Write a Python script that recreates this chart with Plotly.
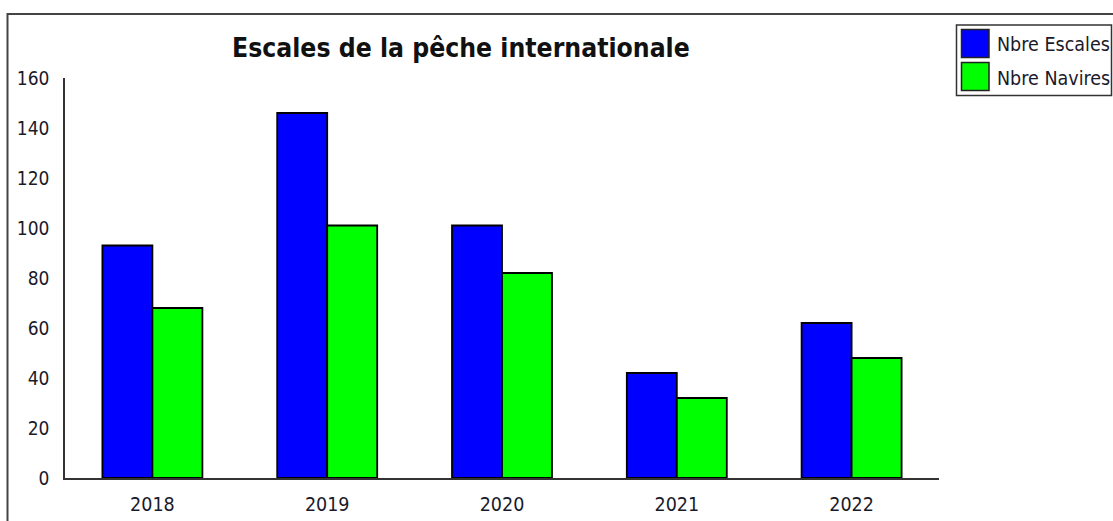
import plotly.graph_objects as go

years = ["2018", "2019", "2020", "2021", "2022"]
escales = [93, 146, 101, 42, 62]
navires = [68, 101, 82, 32, 48]
series_names = ["Nbre Escales", "Nbre Navires"]
series_colors = ["#0000FF", "#00FF00"]
title_text = "Escales de la pêche internationale"

W, H = 1113, 521
L, R, T, B = 65, 939, 78, 478  # plot area in pixels


def px(x):
    return (x - L) / (R - L)


def py(y):
    return (B - y) / (B - T)


FONT = "DejaVu Sans Condensed, DejaVu Sans, sans-serif"
TXT = "#1a1a2a"

fig = go.Figure()
for name, vals, col in zip(series_names, [escales, navires], series_colors):
    fig.add_trace(go.Bar(
        x=years, y=vals, name=name,
        marker=dict(color=col, line=dict(color="black", width=1.8)),
        showlegend=False,
    ))

shapes = []
annotations = []
# outer frame
shapes.append(dict(type="rect", xref="paper", yref="paper",
                   x0=px(7.5), x1=px(1125), y0=py(14), y1=py(540),
                   line=dict(color="#444444", width=2), fillcolor="rgba(0,0,0,0)", layer="below"))
# legend box
shapes.append(dict(type="rect", xref="paper", yref="paper",
                   x0=px(956.5), x1=px(1111.5), y0=py(25), y1=py(95.5),
                   line=dict(color="#333333", width=1.5), fillcolor="white"))
sw_y = [(29.5, 57.5), (62.5, 90.5)]
txt_y = [45, 79]
for (y0, y1), ty, name, col in zip(sw_y, txt_y, series_names, series_colors):
    shapes.append(dict(type="rect", xref="paper", yref="paper",
                       x0=px(961.5), x1=px(989), y0=py(y1), y1=py(y0),
                       line=dict(color="#222222", width=1.5), fillcolor=col))
    annotations.append(dict(xref="paper", yref="paper", x=px(995), y=py(ty),
                            text=name, showarrow=False, xanchor="left", yanchor="middle",
                            font=dict(family=FONT, size=19.5, color=TXT)))
annotations.append(dict(xref="paper", yref="paper", x=px(461), y=py(48),
                        text="<b>" + title_text + "</b>", showarrow=False,
                        xanchor="center", yanchor="middle",
                        font=dict(family=FONT, size=26.3, color="#111111")))

fig.update_layout(
    template="none",
    width=W, height=H, autosize=False,
    margin=dict(l=L, r=W - R, t=T, b=H - B, pad=0, autoexpand=False),
    paper_bgcolor="white", plot_bgcolor="white",
    barmode="group", bargap=0.428, bargroupgap=0,
    shapes=shapes, annotations=annotations,
    showlegend=False,
)
fig.update_xaxes(type="category", range=[-0.5, 4.5], showline=True, linecolor="#333333", linewidth=1.5,
                 showgrid=False, zeroline=False, ticks="", ticklabelstandoff=8, automargin=False,
                 tickfont=dict(family=FONT, size=19.5, color=TXT))
fig.update_yaxes(range=[0, 160], dtick=20, showline=True, linecolor="#333333", linewidth=1.5,
                 showgrid=False, zeroline=False, ticks="", ticklabelstandoff=10, automargin=False,
                 tickfont=dict(family=FONT, size=19, color=TXT))

fig.write_html("out.html", config={"displayModeBar": False},
               post_script="document.body.style.margin='0';document.body.style.overflow='hidden';")
